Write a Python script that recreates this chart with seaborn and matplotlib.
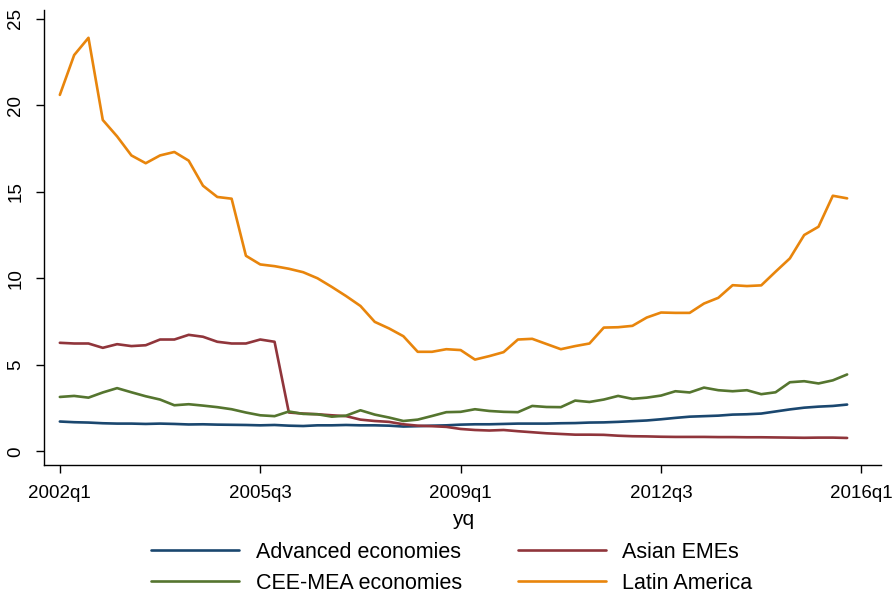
import numpy as np
import pandas as pd
import seaborn as sns
import matplotlib.pyplot as plt

# quarters 2002q1 .. 2015q4
quarters = [f"{y}q{q}" for y in range(2002, 2016) for q in range(1, 5)]

advanced = [1.72, 1.68, 1.66, 1.62, 1.60, 1.60, 1.58, 1.60, 1.58, 1.55,
            1.56, 1.54, 1.53, 1.52, 1.50, 1.52, 1.48, 1.46, 1.50, 1.50,
            1.52, 1.50, 1.50, 1.48, 1.43, 1.45, 1.48, 1.50, 1.54, 1.56,
            1.56, 1.58, 1.60, 1.60, 1.60, 1.62, 1.63, 1.66, 1.67, 1.70,
            1.74, 1.78, 1.85, 1.93, 2.00, 2.03, 2.06, 2.12, 2.14, 2.18,
            2.30, 2.42, 2.52, 2.58, 2.62, 2.70]
asian = [6.27, 6.23, 6.23, 5.98, 6.19, 6.08, 6.13, 6.46, 6.46, 6.73,
         6.62, 6.33, 6.23, 6.23, 6.46, 6.33, 2.24, 2.18, 2.14, 2.08,
         2.03, 1.83, 1.75, 1.70, 1.56, 1.48, 1.45, 1.41, 1.29, 1.23,
         1.20, 1.23, 1.16, 1.10, 1.04, 1.00, 0.96, 0.96, 0.95, 0.90,
         0.87, 0.86, 0.84, 0.83, 0.83, 0.83, 0.82, 0.82, 0.81, 0.81,
         0.80, 0.79, 0.78, 0.79, 0.79, 0.77]
ceemea = [3.14, 3.20, 3.10, 3.40, 3.65, 3.41, 3.18, 2.99, 2.66, 2.72,
          2.64, 2.55, 2.43, 2.24, 2.08, 2.03, 2.30, 2.16, 2.14, 2.00,
          2.06, 2.37, 2.12, 1.95, 1.75, 1.83, 2.04, 2.26, 2.28, 2.43,
          2.33, 2.28, 2.26, 2.62, 2.56, 2.55, 2.93, 2.85, 2.99, 3.20,
          3.03, 3.10, 3.22, 3.47, 3.40, 3.68, 3.53, 3.47, 3.53, 3.30,
          3.41, 3.99, 4.05, 3.92, 4.10, 4.44]
latam = [20.6, 22.9, 23.9, 19.15, 18.2, 17.1, 16.65, 17.1, 17.3, 16.8,
         15.35, 14.7, 14.6, 11.3, 10.8, 10.7, 10.55, 10.35, 10.0, 9.5,
         8.97, 8.4, 7.48, 7.1, 6.65, 5.75, 5.75, 5.9, 5.85, 5.3,
         5.5, 5.73, 6.46, 6.5, 6.2, 5.9, 6.08, 6.23, 7.15, 7.17,
         7.25, 7.73, 8.02, 8.0, 8.0, 8.54, 8.87, 9.6, 9.55, 9.59,
         10.38, 11.15, 12.5, 12.98, 14.77, 14.62]

series = ["Advanced economies", "Asian EMEs", "CEE-MEA economies", "Latin America"]
colors = ["#1a476f", "#90353b", "#55752f", "#e8850c"]

xticks = [0, 14, 28, 42, 56]
xticklabels = ["2002q1", "2005q3", "2009q1", "2012q3", "2016q1"]

df = pd.DataFrame({"yq": np.arange(len(quarters)),
                   "Advanced economies": advanced, "Asian EMEs": asian,
                   "CEE-MEA economies": ceemea, "Latin America": latam})
df_long = df.melt(id_vars="yq", var_name="group", value_name="value")

sns.set_style("ticks")
plt.rcParams["font.family"] = ["Liberation Sans", "DejaVu Sans"]
plt.rcParams["text.color"] = "black"
plt.rcParams["xtick.color"] = "black"
plt.rcParams["ytick.color"] = "black"
plt.rcParams["axes.labelcolor"] = "black"

fig = plt.figure(figsize=(8.94, 5.95), dpi=100)
ax = fig.add_axes([0.049, 0.218, 0.937, 0.765])

sns.lineplot(data=df_long, x="yq", y="value", hue="group", hue_order=series,
             palette=colors, linewidth=1.9, ax=ax, legend=True)

ax.set_xlim(-1.12, 57.4)
ax.set_ylim(-0.81, 25.5)
ax.set_xticks(xticks)
ax.set_xticklabels(xticklabels, fontsize=13.5)
ax.set_yticks([0, 5, 10, 15, 20, 25])
ax.set_yticklabels(["0", "5", "10", "15", "20", "25"], fontsize=13.5,
                   rotation=90, va="center")
ax.tick_params(length=6, width=1, pad=8)
ax.set_xlabel("yq", fontsize=15, labelpad=6)
ax.set_ylabel("")
for s in ["top", "right"]:
    ax.spines[s].set_visible(False)
for s in ["left", "bottom"]:
    ax.spines[s].set_color("black")
    ax.spines[s].set_linewidth(1)

# row order like the original: Advanced | Asian, CEE-MEA | Latin
handles, labels = ax.get_legend_handles_labels()
order = [0, 2, 1, 3]
ax.legend([handles[i] for i in order], [labels[i] for i in order],
          loc="upper center", bbox_to_anchor=(0.487, -0.140),
          ncol=2, frameon=False, fontsize=15.5, handlelength=4.1,
          columnspacing=2.6, handletextpad=0.75, labelspacing=0.45,
          borderaxespad=0.2)

fig.savefig("out.png", dpi=100)
